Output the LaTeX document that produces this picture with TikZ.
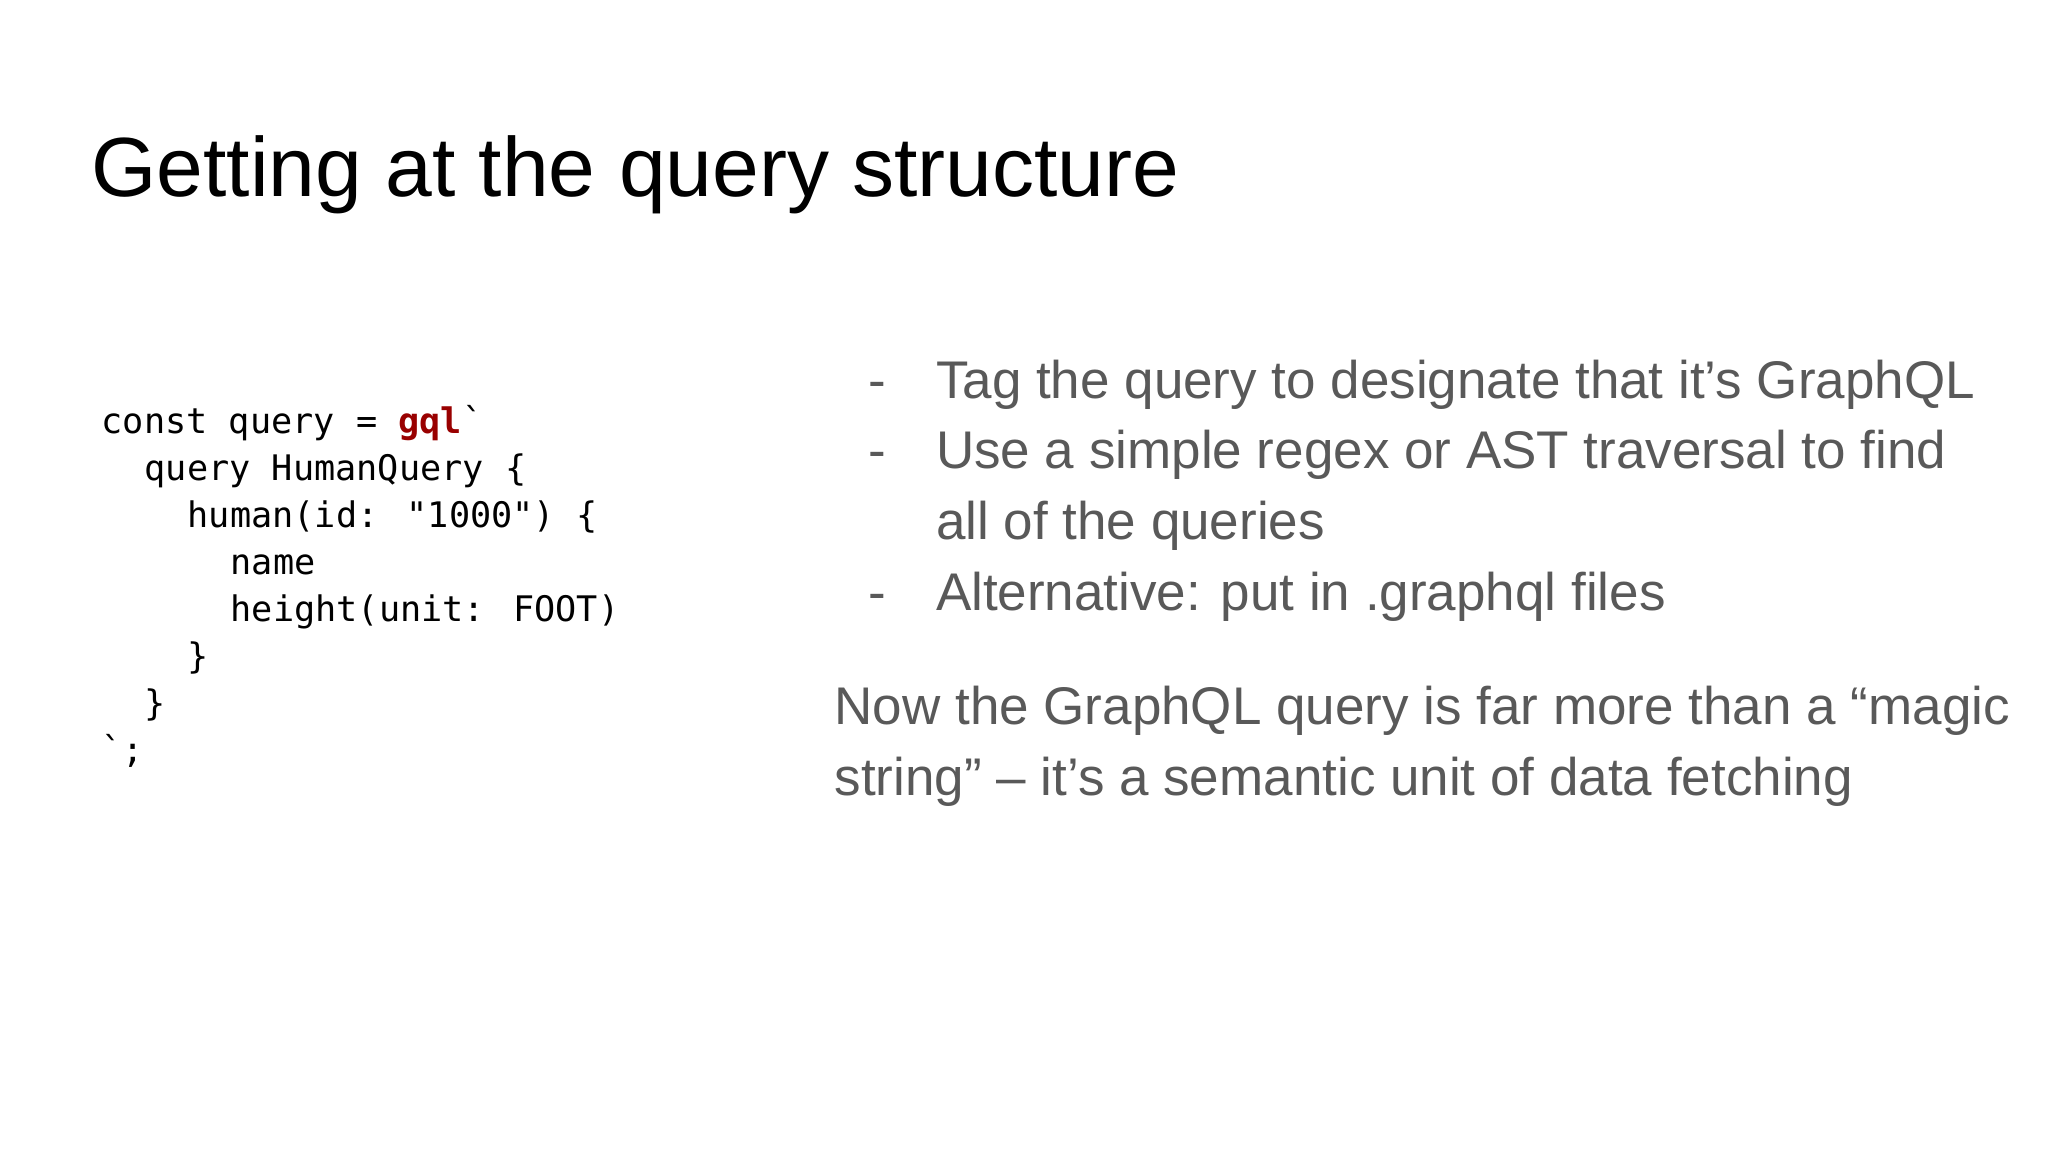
\documentclass[tikz,border=0pt]{standalone}
\usepackage{fontspec}
\setmainfont{Liberation Sans}
\newfontfamily\codefont{DejaVu Sans Mono}
\definecolor{bodygray}{HTML}{595959}
\definecolor{gqlred}{HTML}{990000}
\begin{document}
\begin{tikzpicture}[x=1pt,y=1pt,
  every node/.style={anchor=base west,inner sep=0pt,outer sep=0pt},
  codeline/.style={font=\codefont\fontsize{17.6}{20}\selectfont,text=black},
  bodytext/.style={font=\fontsize{26.5}{30}\selectfont,text=bodygray}]
\useasboundingbox[fill=white] (0,0) rectangle (1024,-576);
\node[font=\fontsize{42}{48}\selectfont] (title) at (45.7,-98) {Getting at the query structure};
\node[codeline] (c1) at (50.9,-216.8) {const query = \textcolor{gqlred}{\bfseries gql}`};
\node[codeline] (c2) at (72.4,-240.3) {query HumanQuery \{};
\node[codeline] (c3) at (93.9,-263.8) {human(id: "1000") \{};
\node[codeline] (c4) at (115.4,-287.3) {name};
\node[codeline] (c5) at (115.4,-310.8) {height(unit: FOOT)};
\node[codeline] (c6) at (93.9,-334.3) {\}};
\node[codeline] (c7) at (72.4,-357.8) {\}};
\node[codeline] (c8) at (50.9,-381.4) {`;};
\node[bodytext] (d1) at (434,-199.2) {-};
\node[bodytext] (b1) at (468,-199.2) {Tag the query to designate that it’s GraphQL};
\node[bodytext] (d2) at (434,-234.4) {-};
\node[bodytext] (b2) at (468,-234.4) {Use a simple regex or AST traversal to find};
\node[bodytext] (b2b) at (468,-269.7) {all of the queries};
\node[bodytext] (d3) at (434,-305) {-};
\node[bodytext] (b3) at (468,-305) {Alternative: put in .graphql files};
\node[bodytext] (p1) at (417.3,-362.4) {Now the GraphQL query is far more than a “magic};
\node[bodytext] (p2) at (417.3,-397.7) {string” -- it’s a semantic unit of data fetching};
\end{tikzpicture}
\end{document}
